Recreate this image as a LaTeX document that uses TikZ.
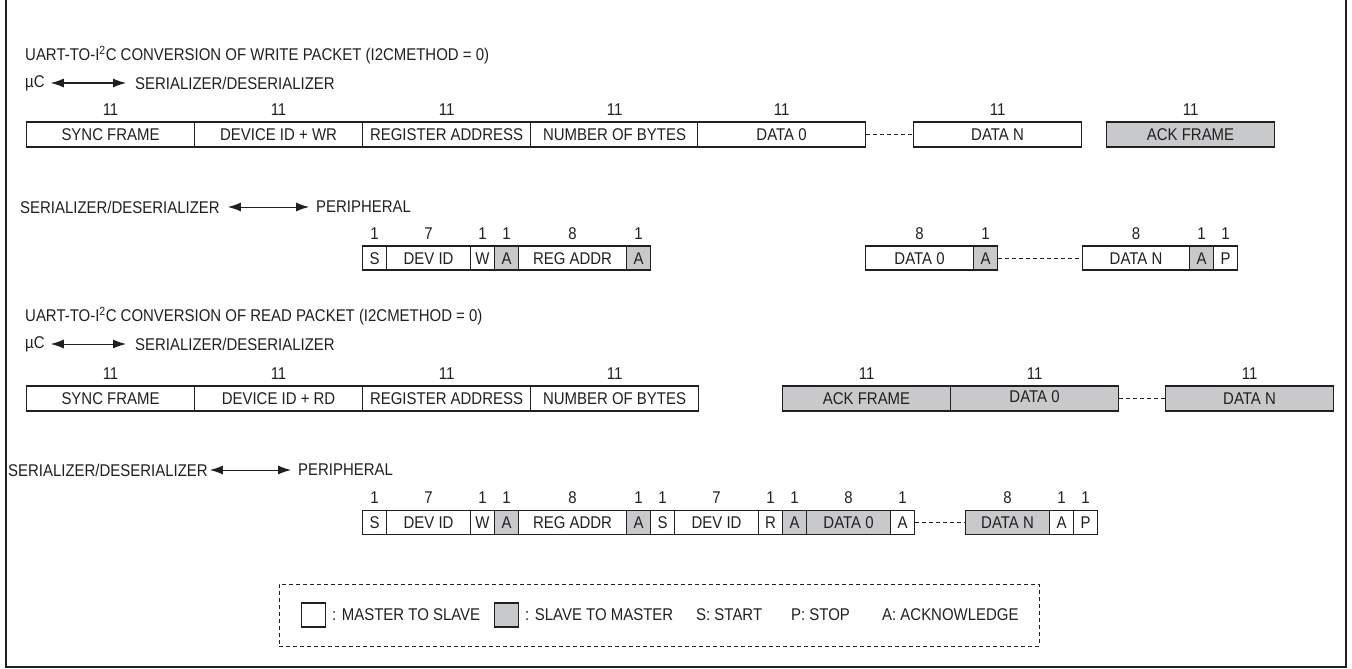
\documentclass[tikz,border=0pt]{standalone}
\usepackage{fontspec}
\setmainfont[FakeStretch=0.88]{Liberation Sans}
\usetikzlibrary{arrows.meta}
\definecolor{ink}{RGB}{35,31,32}
\definecolor{slavegray}{RGB}{200,201,203}

\begin{document}
\begin{tikzpicture}[x=1pt,y=-1pt,
		every node/.style={font=\fontsize{17}{20}\selectfont, text=ink},
		txt/.style={inner sep=0pt, anchor=west},
		bits/.style={inner sep=0pt},
		label distance=6pt,
		fld/.style={draw=ink, line width=1.1pt, fill=white, inner sep=0pt, anchor=west,
			minimum height=25pt, text height=12pt, text depth=0pt, label={[bits]above:#1}},
		sfld/.style={fld=#1, fill=slavegray},
		gap/.style={draw=ink, line width=0.8pt, dash pattern=on 4pt off 3pt},
		twoway/.style={{Latex[length=13pt,width=9pt]}-{Latex[length=13pt,width=9pt]}, draw=ink, line width=1pt}]
	\useasboundingbox (0,0) rectangle (1352,669);
	\draw [ink, line width=2pt] (6,0) -- (6,667) -- (1346,667) -- (1346,0);
	% write packet, uC side
	\node [txt] (titleW) at (25,55) {UART-TO-I\textsuperscript{2}C CONVERSION OF WRITE PACKET (I2CMETHOD = 0)};
	\node [txt] (ucW) at (25,83) {µC};
	\node [txt] (sdW) at (135,83) {SERIALIZER/DESERIALIZER};
	\draw [twoway] ([xshift=6]ucW.east) -- ([xshift=-9]sdW.west);
	\node [fld=11, minimum width=168] (sync1) at (26,134.5) {SYNC FRAME};
	\node [fld=11, minimum width=168] (dev1) at (194,134.5) {DEVICE ID + WR};
	\node [fld=11, minimum width=168] (reg1) at (362,134.5) {REGISTER ADDRESS};
	\node [fld=11, minimum width=168] (nob1) at (530,134.5) {NUMBER OF BYTES};
	\node [fld=11, minimum width=168] (dz1) at (697,134.5) {DATA 0};
	\node [fld=11, minimum width=168] (dn1) at (913,134.5) {DATA N};
	\node [sfld=11, minimum width=168] (ack1) at (1106,134.5) {ACK FRAME};
	\draw [gap] (dz1.east) -- (dn1.west);
	% write packet, peripheral side
	\node [txt] (sdP2) at (20,207) {SERIALIZER/DESERIALIZER};
	\node [txt] (per2) at (316,207) {PERIPHERAL};
	\draw [twoway] ([xshift=8]sdP2.east) -- ([xshift=-7]per2.west);
	\node [fld=1, minimum width=24, minimum height=24] (s2) at (362,258) {S};
	\node [fld=7, minimum width=84, minimum height=24] (did2) at (386,258) {DEV ID};
	\node [fld=1, minimum width=24, minimum height=24] (w2) at (470,258) {W};
	\node [sfld=1, minimum width=24, minimum height=24] (a2) at (494,258) {A};
	\node [fld=8, minimum width=108, minimum height=24] (ra2) at (518,258) {REG ADDR};
	\node [sfld=1, minimum width=24, minimum height=24] (a2b) at (626,258) {A};
	\node [fld=8, minimum width=108, minimum height=24] (d02) at (865,258) {DATA 0};
	\node [sfld=1, minimum width=24, minimum height=24] (a2c) at (973,258) {A};
	\node [fld=8, minimum width=107, minimum height=24] (dn2) at (1082,258) {DATA N};
	\node [sfld=1, minimum width=24, minimum height=24] (a2d) at (1189,258) {A};
	\node [fld=1, minimum width=24, minimum height=24] (p2) at (1213,258) {P};
	\draw [gap] (a2c.east) -- (dn2.west);
	% read packet, uC side
	\node [txt] (titleR) at (25,316) {UART-TO-I\textsuperscript{2}C CONVERSION OF READ PACKET (I2CMETHOD = 0)};
	\node [txt] (ucR) at (25,344) {µC};
	\node [txt] (sdR) at (135,344) {SERIALIZER/DESERIALIZER};
	\draw [twoway] ([xshift=6]ucR.east) -- ([xshift=-9]sdR.west);
	\node [fld=11, minimum width=168] (sync3) at (26,398.5) {SYNC FRAME};
	\node [fld=11, minimum width=168] (dev3) at (194,398.5) {DEVICE ID + RD};
	\node [fld=11, minimum width=168] (reg3) at (362,398.5) {REGISTER ADDRESS};
	\node [fld=11, minimum width=168] (nob3) at (530,398.5) {NUMBER OF BYTES};
	\node [sfld=11, minimum width=168] (ack3) at (782,398.5) {ACK FRAME};
	\node [sfld=11, minimum width=168] (dz3) at (950,398.5) {\raisebox{2pt}{DATA 0}};
	\node [sfld=11, minimum width=168] (dn3) at (1165,398.5) {DATA N};
	\draw [gap] (dz3.east) -- (dn3.west);
	% read packet, peripheral side
	\node [txt] (sdP4) at (8,470) {SERIALIZER/DESERIALIZER};
	\node [txt] (per4) at (298,470) {PERIPHERAL};
	\draw [twoway] ([xshift=2]sdP4.east) -- ([xshift=-7]per4.west);
	\node [fld=1, minimum width=24, minimum height=24] (s4) at (362,522.5) {S};
	\node [fld=7, minimum width=84, minimum height=24] (did4) at (386,522.5) {DEV ID};
	\node [fld=1, minimum width=24, minimum height=24] (w4) at (470,522.5) {W};
	\node [sfld=1, minimum width=24, minimum height=24] (a4) at (494,522.5) {A};
	\node [fld=8, minimum width=108, minimum height=24] (ra4) at (518,522.5) {REG ADDR};
	\node [sfld=1, minimum width=24, minimum height=24] (a4b) at (626,522.5) {A};
	\node [fld=1, minimum width=24, minimum height=24] (s4b) at (650,522.5) {S};
	\node [fld=7, minimum width=84, minimum height=24] (did4b) at (674,522.5) {DEV ID};
	\node [fld=1, minimum width=24, minimum height=24] (r4) at (758,522.5) {R};
	\node [sfld=1, minimum width=24, minimum height=24] (a4c) at (782,522.5) {A};
	\node [sfld=8, minimum width=84, minimum height=24] (d04) at (806,522.5) {DATA 0};
	\node [fld=1, minimum width=24, minimum height=24] (a4d) at (890,522.5) {A};
	\node [sfld=8, minimum width=84, minimum height=24] (dn4) at (965,522.5) {DATA N};
	\node [fld=1, minimum width=24, minimum height=24] (a4e) at (1049,522.5) {A};
	\node [fld=1, minimum width=24, minimum height=24] (p4) at (1073,522.5) {P};
	\draw [gap] (a4d.east) -- (dn4.west);
	% legend
	\node [draw=ink, line width=0.8pt, dash pattern=on 4pt off 3pt, minimum width=760, minimum height=62] (legend) at (659,615) {};
	\node [draw=ink, line width=1.1pt, fill=white, anchor=west, minimum width=24, minimum height=24, inner sep=0pt] (msq) at (301,615) {};
	\node [txt] (mtxt) at (332,615) {: MASTER TO SLAVE};
	\node [draw=ink, line width=1.1pt, fill=slavegray, anchor=west, minimum width=24, minimum height=24, inner sep=0pt] (ssq) at (494,615) {};
	\node [txt] (stxt) at (525,615) {: SLAVE TO MASTER};
	\node [txt] (start) at (696,615) {S: START};
	\node [txt] (stop) at (791,615) {P: STOP};
	\node [txt] (ackn) at (882,615) {A: ACKNOWLEDGE};
\end{tikzpicture}
\end{document}
